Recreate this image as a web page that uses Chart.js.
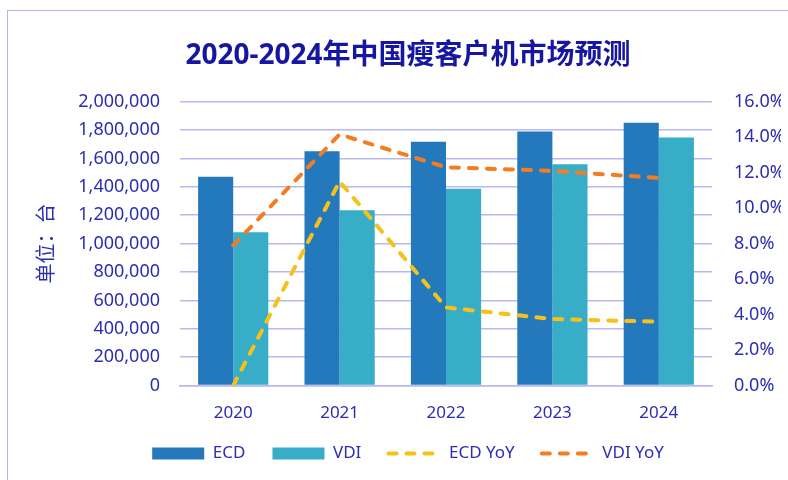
<!DOCTYPE html>
<html lang="zh">
<head>
    <meta charset="UTF-8">
    <title>2020-2024年中国瘦客户机市场预测</title>
    <script src="https://cdn.jsdelivr.net/npm/chart.js"></script>
    <style>
        body { margin: 0; background: #fff; }
        #frame {
            position: absolute; left: 7px; top: 10px; width: 900px; height: 600px;
            border: 1.5px solid #b4b4f0; box-sizing: border-box;
        }
        #wrap { position: absolute; left: 0; top: 0; width: 788px; height: 480px; }
    </style>
</head>
<body>
    <div id="frame"></div>
    <div id="wrap"><canvas id="chart" width="788" height="480"></canvas></div>

    <script>
        const years = ['2020', '2021', '2022', '2023', '2024'];
        const ecd = [1470000, 1650000, 1718000, 1789000, 1851000];
        const vdi = [1080000, 1235000, 1387000, 1558000, 1747000];
        const ecdYoy = [0.0, 11.5, 4.4, 3.75, 3.6];
        const vdiYoy = [7.9, 14.15, 12.3, 12.1, 11.7];
        const leftTicks = [0, 200000, 400000, 600000, 800000, 1000000, 1200000, 1400000, 1600000, 1800000, 2000000];
        const rightTicks = [0, 2, 4, 6, 8, 10, 12, 14, 16];

        const textColor = '#2d2db4';
        const gridColor = '#b8b8f2';
        const font = "'Noto Sans', 'Noto Sans CJK SC', sans-serif";

        new Chart(document.getElementById('chart'), {
            data: {
                labels: years,
                datasets: [
                    { type: 'bar', label: 'ECD', data: ecd, backgroundColor: '#2479bd', yAxisID: 'y', order: 2,
                      categoryPercentage: 0.66, barPercentage: 1 },
                    { type: 'bar', label: 'VDI', data: vdi, backgroundColor: '#37adc8', yAxisID: 'y', order: 2,
                      categoryPercentage: 0.66, barPercentage: 1 },
                    { type: 'line', label: 'ECD YoY', data: ecdYoy, borderColor: '#f5c21c', backgroundColor: '#f5c21c',
                      borderWidth: 4, borderDash: [8, 10], borderCapStyle: 'round', pointRadius: 0, yAxisID: 'y1', order: 1 },
                    { type: 'line', label: 'VDI YoY', data: vdiYoy, borderColor: '#f47d22', backgroundColor: '#f47d22',
                      borderWidth: 4, borderDash: [8, 10], borderCapStyle: 'round', pointRadius: 0, yAxisID: 'y1', order: 1 }
                ]
            },
            options: {
                responsive: false,
                animation: false,
                layout: { padding: { left: 35, right: 7, top: 0, bottom: 8 } },
                plugins: {
                    title: {
                        display: true,
                        text: '2020-2024年中国瘦客户机市场预测',
                        color: '#1616a2',
                        font: { family: font, size: 28, weight: 'bold' },
                        padding: { top: 39, bottom: 29 }
                    },
                    legend: {
                        position: 'bottom',
                        labels: {
                            color: textColor,
                            font: { family: font, size: 17 },
                            usePointStyle: true,
                            pointStyleWidth: 52,
                            boxHeight: 12,
                            padding: 13,
                            sort: (a, b) => a.datasetIndex - b.datasetIndex,
                            generateLabels(chart) {
                                const items = Chart.defaults.plugins.legend.labels.generateLabels(chart);
                                items.forEach(it => {
                                    const ds = chart.data.datasets[it.datasetIndex];
                                    if (ds.type === 'line') {
                                        it.pointStyle = 'line';
                                        it.lineWidth = 4;
                                        it.lineCap = 'round';
                                        it.lineDash = [8, 10];
                                    } else {
                                        it.pointStyle = 'rect';
                                        it.lineWidth = 0;
                                    }
                                    // extra gap between legend entries
                                    if (it.datasetIndex < chart.data.datasets.length - 1) it.text += '\u2002\u2009\u2009';
                                });
                                return items;
                            }
                        }
                    },
                    tooltip: { enabled: false }
                },
                scales: {
                    x: {
                        grid: { display: false },
                        border: { color: gridColor, width: 1.5 },
                        ticks: { color: textColor, font: { family: font, size: 17 }, padding: 9 }
                    },
                    y: {
                        position: 'left',
                        min: 0, max: 2000000,
                        afterBuildTicks(scale) { scale.ticks = leftTicks.map(v => ({ value: v })); },
                        afterFit(scale) { scale.width = 145; },
                        grid: { color: gridColor, lineWidth: 1.5, drawTicks: false },
                        border: { display: false },
                        ticks: {
                            color: textColor, font: { family: font, size: 18 }, padding: 20,
                            callback: v => v.toLocaleString('en-US')
                        },
                        title: {
                            display: true, text: '单位：台', color: textColor,
                            font: { family: font, size: 20 }, padding: 0
                        }
                    },
                    y1: {
                        position: 'right',
                        min: 0, max: 16,
                        afterBuildTicks(scale) { scale.ticks = rightTicks.map(v => ({ value: v })); },
                        afterFit(scale) { scale.width = 69; },
                        grid: { display: false },
                        border: { display: false },
                        ticks: {
                            color: textColor, font: { family: font, size: 18 }, padding: 14,
                            callback: v => v.toFixed(1) + '%'
                        }
                    }
                }
            }
        });
    </script>
</body>
</html>
